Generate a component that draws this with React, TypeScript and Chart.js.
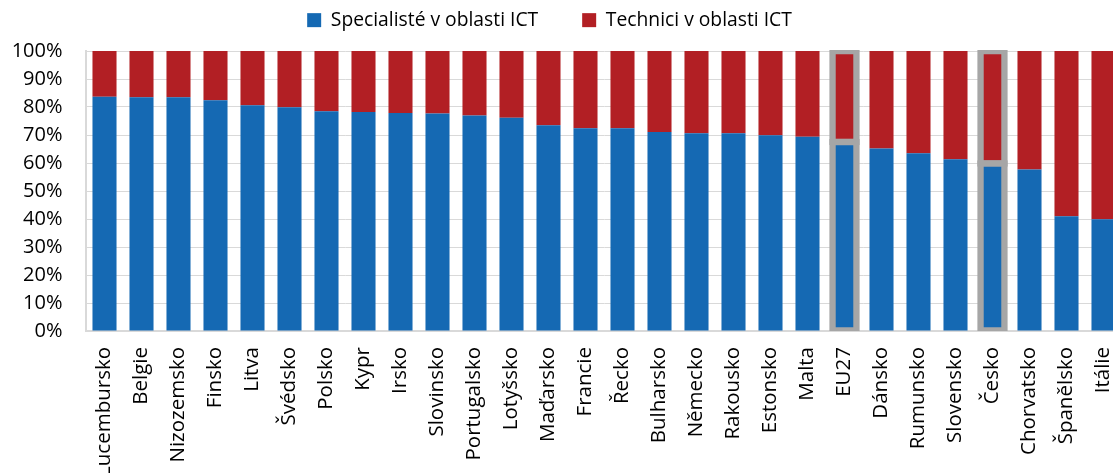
import React, { useEffect, useRef } from 'react';
import { Chart, registerables } from 'chart.js';

Chart.register(...registerables);

const categories = [
  'Lucembursko', 'Belgie', 'Nizozemsko', 'Finsko', 'Litva', 'Švédsko', 'Polsko',
  'Kypr', 'Irsko', 'Slovinsko', 'Portugalsko', 'Lotyšsko', 'Maďarsko', 'Francie',
  'Řecko', 'Bulharsko', 'Německo', 'Rakousko', 'Estonsko', 'Malta', 'EU27',
  'Dánsko', 'Rumunsko', 'Slovensko', 'Česko', 'Chorvatsko', 'Španělsko', 'Itálie',
];

const specialists = [
  83.7, 83.5, 83.5, 82.4, 80.6, 79.9, 78.5, 78.2, 77.9, 77.7, 77.0, 76.2, 73.5, 72.4,
  72.4, 71.1, 70.6, 70.6, 69.9, 69.4, 67.5, 65.2, 63.5, 61.3, 59.8, 57.7, 41.0, 39.9,
];

const technicians = [
  16.3, 16.5, 16.5, 17.6, 19.4, 20.1, 21.5, 21.8, 22.1, 22.3, 23.0, 23.8, 26.5, 27.6,
  27.6, 28.9, 29.4, 29.4, 30.1, 30.6, 32.5, 34.8, 36.5, 38.7, 40.2, 42.3, 59.0, 60.1,
];

const highlighted = ['EU27', 'Česko'];

const seriesLabels = ['Specialisté v oblasti ICT', 'Technici v oblasti ICT'];

const BLUE = '#1569B3';
const RED = '#B21F24';
const GREY = '#A6A6A6';
const GRID = '#D9D9D9';
const FONT = 'Open Sans';

const CANVAS_W = 1122;
const CANVAS_H = 481;
const LEGEND_HEIGHT = 51;
const LEGEND_DX = -17;
const LEGEND_DY = -33.5;

const legendTweak = {
  id: 'legendTweak',
  beforeInit(chart: any) {
    const legend = chart.legend;
    if (!legend) return;
    const fit = legend.fit.bind(legend);
    legend.fit = () => {
      fit();
      legend.height = LEGEND_HEIGHT;
    };
  },
  afterLayout(chart: any) {
    const l = chart.legend;
    if (!l) return;
    l.top += LEGEND_DY;
    l.left += LEGEND_DX;
    l.right += LEGEND_DX;
  },
};

export default function App() {
  const ref = useRef<HTMLCanvasElement>(null);

  useEffect(() => {
    const canvas = ref.current;
    if (!canvas) return;
    const isHi = (c: any) =>
      c && c.dataIndex !== undefined && highlighted.includes(categories[c.dataIndex]);

    const common = {
      borderColor: GREY,
      borderWidth: (c: any) => (isHi(c) ? 6.5 : 0),
      borderSkipped: false,
      inflateAmount: (c: any) => (isHi(c) ? 3.25 : 'auto'),
      categoryPercentage: 1,
      barPercentage: 0.65,
    };

    const chart = new Chart(canvas, {
      type: 'bar',
      data: {
        labels: categories,
        datasets: [
          { label: seriesLabels[0], data: specialists, backgroundColor: BLUE, ...common },
          {
            label: seriesLabels[1],
            data: technicians,
            backgroundColor: RED,
            clip: { left: false, top: 1, right: false, bottom: false },
            ...common,
          },
        ] as any,
      },
      options: {
        responsive: false,
        animation: false,
        layout: { padding: { left: 11, right: 0, top: 0, bottom: 0 } },
        plugins: {
          legend: {
            position: 'top',
            labels: {
              boxWidth: 14,
              boxHeight: 14,
              padding: 44,
              color: '#000',
              font: { family: FONT, size: 19.3 },
            },
          },
          tooltip: { enabled: false },
        },
        scales: {
          x: {
            stacked: true,
            grid: { display: false, drawTicks: false },
            border: { display: true, color: GRID, width: 2 },
            ticks: {
              autoSkip: false,
              maxRotation: 90,
              minRotation: 90,
              padding: 16,
              color: '#000',
              font: { family: FONT, size: 20.5 },
            },
            afterFit: (s: any) => {
              s.height = 150;
              s.paddingLeft = 0;
              s.paddingRight = 0;
            },
          },
          y: {
            stacked: true,
            min: 0,
            max: 100,
            grid: { color: GRID, lineWidth: 1, drawTicks: false },
            border: { display: true, color: GRID, width: 2 },
            ticks: {
              stepSize: 10,
              padding: 23.5,
              color: '#000',
              font: { family: FONT, size: 20 },
              callback: (v: any) => `${v}%`,
            },
            afterFit: (s: any) => {
              s.width = 75;
              s.paddingTop = 0;
              s.paddingBottom = 0;
            },
          },
        },
      } as any,
      plugins: [legendTweak],
    });

    return () => chart.destroy();
  }, []);

  return (
    <div
      style={{
        position: 'fixed',
        left: 0,
        top: 0,
        width: 1113,
        height: 473,
        overflow: 'hidden',
        background: '#fff',
      }}
    >
      <canvas
        ref={ref}
        width={CANVAS_W}
        height={CANVAS_H}
        style={{ display: 'block', width: CANVAS_W, height: CANVAS_H }}
      />
    </div>
  );
}
